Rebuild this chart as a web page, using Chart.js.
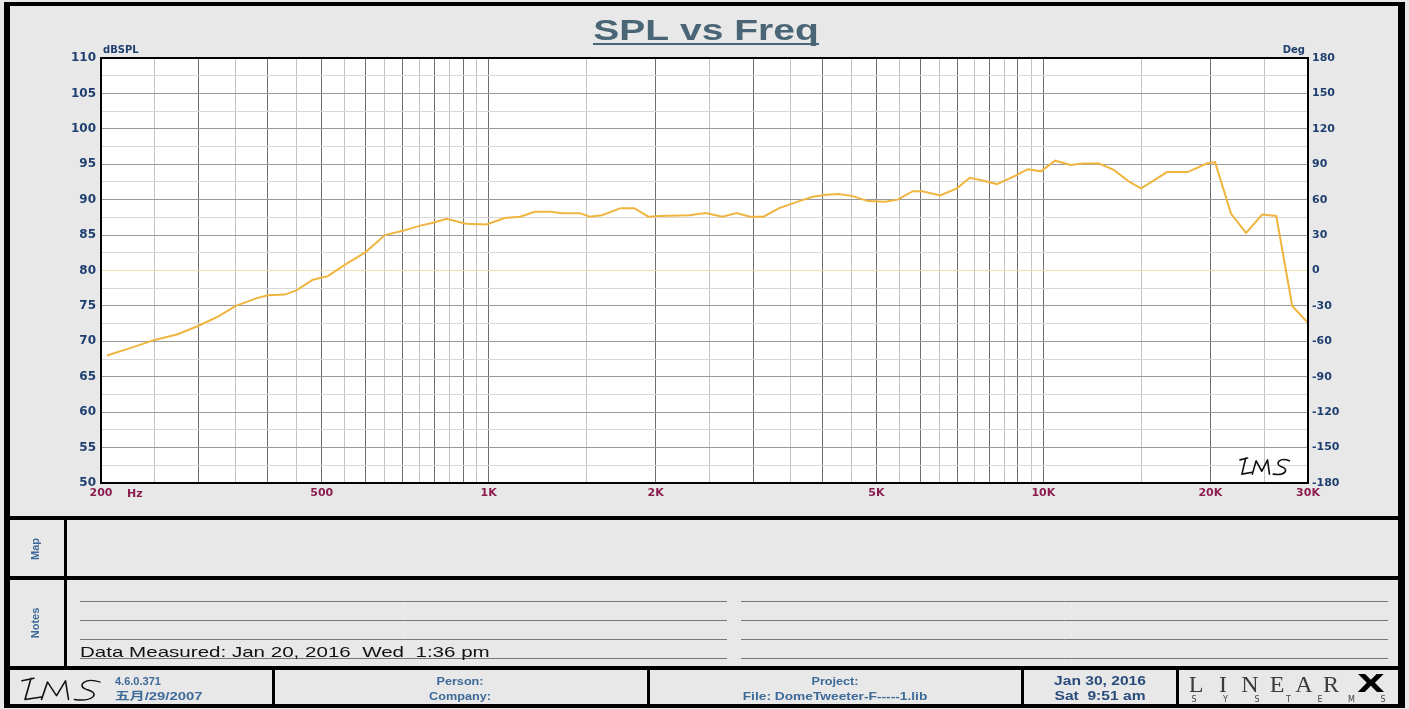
<!DOCTYPE html>
<html>
<head>
<meta charset="utf-8">
<script src="https://cdn.jsdelivr.net/npm/chart.js@4/dist/chart.umd.min.js"></script>
<style>
  html, body { margin: 0; padding: 0; background: #e8e8e8; }
  canvas { display: block; }
</style>
</head>
<body>
<canvas id="splChart" width="1409" height="709"></canvas>
<script>
// measured curve
const freqHz = [205, 225, 250, 275, 300, 325, 350, 382, 400, 429, 450, 482, 513, 550, 600, 650, 700, 750, 790, 840,
  910, 990, 1069, 1140, 1210, 1290, 1360, 1460, 1520, 1600, 1730, 1830, 1940, 2030, 2300, 2460, 2640, 2800, 2960, 3130,
  3340, 3630, 3840, 4060, 4280, 4530, 4830, 5180, 5460, 5820, 6050, 6520, 6980, 7370, 7770, 8250, 8910, 9370, 9900, 10500,
  11200, 11800, 12600, 13400, 14300, 15000, 15800, 16700, 18200, 19700, 20400, 21800, 23200, 24800, 26300, 28100, 30000];
const splDb = [68.0, 69.0, 70.2, 71.0, 72.2, 73.5, 75.0, 76.1, 76.5, 76.6, 77.2, 78.7, 79.2, 80.8, 82.6, 85.0, 85.6, 86.3, 86.7, 87.3,
  86.6, 86.5, 87.4, 87.6, 88.3, 88.3, 88.1, 88.1, 87.6, 87.8, 88.8, 88.8, 87.6, 87.7, 87.8, 88.1, 87.6, 88.1, 87.6, 87.6,
  88.8, 89.8, 90.4, 90.7, 90.8, 90.5, 89.8, 89.7, 90.0, 91.2, 91.2, 90.6, 91.6, 93.1, 92.7, 92.2, 93.4, 94.3, 94.0, 95.5,
  94.9, 95.1, 95.1, 94.2, 92.5, 91.6, 92.7, 93.9, 93.9, 95.1, 95.3, 88.0, 85.3, 87.9, 87.7, 75.0, 72.6];

// frequency grid
const gridMajorHz = [300, 400, 500, 600, 700, 800, 900, 1000, 2000, 3000, 4000, 5000, 6000, 7000, 8000, 9000, 10000, 20000];
const gridMinorHz = [250, 350, 450, 550, 650, 750, 850, 950, 1500, 2500, 3500, 4500, 5500, 6500, 7500, 8500, 9500, 15000, 25000];
const xTickLabels = { 200: '200', 500: '500', 1000: '1K', 2000: '2K', 5000: '5K', 10000: '10K', 20000: '20K', 30000: '30K' };

const splMin = 50, splMax = 110, splStep = 2.5;
const degMin = -180, degMax = 180, degStep = 15;

const axisBlue = '#1f3f70';
const freqRed = '#8c1d4f';
const footBlue = '#3d6a98';

function drawLms(ctx, x, y, sx, sy) {
  ctx.save();
  ctx.translate(x, y);
  ctx.scale(sx, sy);
  ctx.strokeStyle = '#111';
  ctx.lineWidth = 1.6 / Math.max(sx, sy);
  ctx.lineCap = 'round';
  ctx.lineJoin = 'round';
  ctx.beginPath();
  ctx.moveTo(0, 3); ctx.lineTo(8, 1);
  ctx.moveTo(6, 1); ctx.lineTo(2, 18); ctx.lineTo(13, 16);
  ctx.moveTo(13, 18); ctx.lineTo(17, 4); ctx.lineTo(23, 15); ctx.lineTo(29, 3); ctx.lineTo(31, 18);
  ctx.moveTo(52, 4);
  ctx.bezierCurveTo(42, 0, 36, 7, 43, 10);
  ctx.bezierCurveTo(53, 13, 47, 20, 35, 18);
  ctx.stroke();
  ctx.restore();
}

function stretchText(ctx, text, x, y, sx, align) {
  ctx.save();
  ctx.translate(x, y);
  ctx.scale(sx, 1);
  ctx.textAlign = align || 'left';
  ctx.fillText(text, 0, 0);
  ctx.restore();
}

const pagePlugin = {
  id: 'page',
  beforeDraw(chart) {
    const ctx = chart.ctx;
    const a = chart.chartArea;
    ctx.save();
    ctx.fillStyle = '#e8e8e8';
    ctx.fillRect(0, 0, chart.width, chart.height);
    ctx.fillStyle = '#ffffff';
    ctx.fillRect(a.left, a.top, a.right - a.left, a.bottom - a.top);
    ctx.restore();
  },
  afterDraw(chart) {
    const ctx = chart.ctx;
    const a = chart.chartArea;
    ctx.save();

    // plot frame
    ctx.strokeStyle = '#000';
    ctx.lineWidth = 2;
    ctx.strokeRect(a.left, a.top, a.right - a.left, a.bottom - a.top);

    // title
    ctx.fillStyle = '#4a6676';
    ctx.font = 'bold 30px "Liberation Sans", Arial';
    ctx.textBaseline = 'alphabetic';
    stretchText(ctx, 'SPL vs Freq', 706, 40, 1.3, 'center');
    ctx.fillRect(593, 43, 226, 2);

    // axis units
    ctx.fillStyle = axisBlue;
    ctx.font = 'bold 10px "DejaVu Sans"';
    ctx.textAlign = 'left';
    ctx.fillText('dBSPL', 103, 53);
    ctx.textAlign = 'right';
    ctx.fillText('Deg', 1305, 53);
    ctx.fillStyle = freqRed;
    ctx.font = 'bold 11px "DejaVu Sans"';
    ctx.textAlign = 'left';
    ctx.fillText('Hz', 127, 497);

    drawLms(ctx, 1240, 457, 0.95, 0.95);

    // outer frame and panel dividers
    ctx.fillStyle = '#000';
    ctx.fillRect(4, 2, 6, 706);
    ctx.fillRect(1398, 2, 7, 706);
    ctx.fillRect(4, 2, 1401, 4);
    ctx.fillRect(4, 704, 1401, 4);
    ctx.fillRect(4, 516, 1401, 4);
    ctx.fillRect(4, 576, 1401, 4);
    ctx.fillRect(4, 666, 1401, 4);
    ctx.fillRect(64, 518, 3, 150);
    [272, 647, 1021, 1176].forEach(x => ctx.fillRect(x, 668, 3, 38));

    // side labels
    ctx.fillStyle = footBlue;
    ctx.font = 'bold 11px "Liberation Sans Narrow", "Liberation Sans"';
    ctx.textAlign = 'center';
    ctx.textBaseline = 'middle';
    [['Map', 549], ['Notes', 623]].forEach(([t, y]) => {
      ctx.save();
      ctx.translate(36, y);
      ctx.rotate(-Math.PI / 2);
      ctx.fillText(t, 0, 0);
      ctx.restore();
    });

    // notes lines
    ctx.strokeStyle = '#777';
    ctx.lineWidth = 1;
    [601.5, 620.5, 639.5, 658.5].forEach(y => {
      ctx.beginPath();
      ctx.moveTo(80, y); ctx.lineTo(727, y);
      ctx.moveTo(741, y); ctx.lineTo(1388, y);
      ctx.stroke();
    });
    ctx.fillStyle = '#111';
    ctx.font = '15px "Liberation Sans", Arial';
    ctx.textBaseline = 'alphabetic';
    stretchText(ctx, 'Data Measured: Jan 20, 2016  Wed  1:36 pm', 80, 657, 1.37, 'left');

    // footer
    drawLms(ctx, 22, 677, 1.5, 1.25);
    ctx.font = 'bold 11px "Liberation Sans", Arial';
    ctx.fillStyle = footBlue;
    ctx.textAlign = 'left';
    ctx.fillText('4.6.0.371', 115, 685);
    ctx.font = 'bold 11px "Liberation Sans", "Noto Sans CJK SC"';
    stretchText(ctx, '五月/29/2007', 115, 700, 1.35, 'left');
    ctx.font = 'bold 11px "Liberation Sans", Arial';
    stretchText(ctx, 'Person:', 460, 685, 1.15, 'center');
    stretchText(ctx, 'Company:', 460, 700, 1.15, 'center');
    stretchText(ctx, 'Project:', 835, 685, 1.15, 'center');
    stretchText(ctx, 'File: DomeTweeter-F-----1.lib', 835, 700, 1.25, 'center');
    ctx.fillStyle = '#2a4c7c';
    ctx.font = 'bold 12px "Liberation Sans", Arial';
    stretchText(ctx, 'Jan 30, 2016', 1100, 685, 1.3, 'center');
    stretchText(ctx, 'Sat  9:51 am', 1100, 700, 1.3, 'center');

    // LINEAR X logo
    ctx.fillStyle = '#3c3c3c';
    ctx.font = '24px "Liberation Serif", serif';
    ctx.textAlign = 'center';
    ['L', 'I', 'N', 'E', 'A', 'R'].forEach((c, i) => ctx.fillText(c, 1196 + i * 27, 692));
    ctx.fillStyle = '#000';
    ctx.font = 'bold 24px "DejaVu Sans"';
    stretchText(ctx, 'X', 1371, 692, 1.5, 'center');
    ctx.fillStyle = '#444';
    ctx.font = '8px "DejaVu Sans"';
    ctx.textAlign = 'center';
    ['S', 'Y', 'S', 'T', 'E', 'M', 'S'].forEach((c, i) => ctx.fillText(c, 1194 + i * 31.5, 702));

    ctx.restore();
  }
};

const points = freqHz.map((f, i) => ({ x: f, y: splDb[i] }));
const xGridAll = [200].concat(gridMinorHz, gridMajorHz, [30000]).sort((p, q) => p - q);

Chart.defaults.font.family = '"DejaVu Sans", Verdana, sans-serif';

new Chart(document.getElementById('splChart').getContext('2d'), {
  type: 'line',
  data: {
    datasets: [{
      label: 'SPL',
      data: points,
      borderColor: '#efb53f',
      borderWidth: 2,
      pointRadius: 0,
      tension: 0,
      fill: false,
      yAxisID: 'y'
    }]
  },
  options: {
    responsive: false,
    devicePixelRatio: 1,
    animation: false,
    layout: { padding: { top: 58, left: 41, right: 41, bottom: 200 } },
    plugins: { legend: { display: false }, tooltip: { enabled: false }, title: { display: false } },
    scales: {
      x: {
        type: 'logarithmic',
        position: 'bottom',
        min: 200,
        max: 30000,
        afterBuildTicks: (scale) => { scale.ticks = xGridAll.map(v => ({ value: v })); },
        afterFit: (scale) => { scale.height = 26; },
        ticks: {
          autoSkip: false,
          maxRotation: 0,
          padding: 4,
          color: freqRed,
          font: { size: 11, weight: 'bold' },
          callback: (v) => xTickLabels[v] || ''
        },
        grid: {
          drawTicks: false,
          lineWidth: 1,
          color: (c) => gridMajorHz.includes(c.tick.value) ? '#6f6f6f' : '#c2c2c2'
        },
        border: { display: true, color: '#000', width: 2 }
      },
      y: {
        type: 'linear',
        position: 'left',
        min: splMin,
        max: splMax,
        afterFit: (scale) => { scale.width = 60; },
        ticks: {
          stepSize: splStep,
          padding: 5,
          color: axisBlue,
          font: { size: 12, weight: 'bold' },
          callback: (v) => (v % 5 === 0 ? v : '')
        },
        grid: {
          drawTicks: false,
          color: (c) => {
            const v = c.tick.value;
            if (v === 80) return '#f4ddb0';
            return v % 5 === 0 ? '#999999' : '#d6d6d6';
          }
        },
        border: { display: true, color: '#000', width: 2 }
      },
      y2: {
        type: 'linear',
        position: 'right',
        min: degMin,
        max: degMax,
        afterFit: (scale) => { scale.width = 60; },
        ticks: {
          stepSize: degStep,
          padding: 4,
          color: axisBlue,
          font: { size: 11, weight: 'bold' },
          callback: (v) => (v % 30 === 0 ? v : '')
        },
        grid: { drawOnChartArea: false, drawTicks: false },
        border: { display: true, color: '#000', width: 2 }
      }
    }
  },
  plugins: [pagePlugin]
});
</script>
</body>
</html>
